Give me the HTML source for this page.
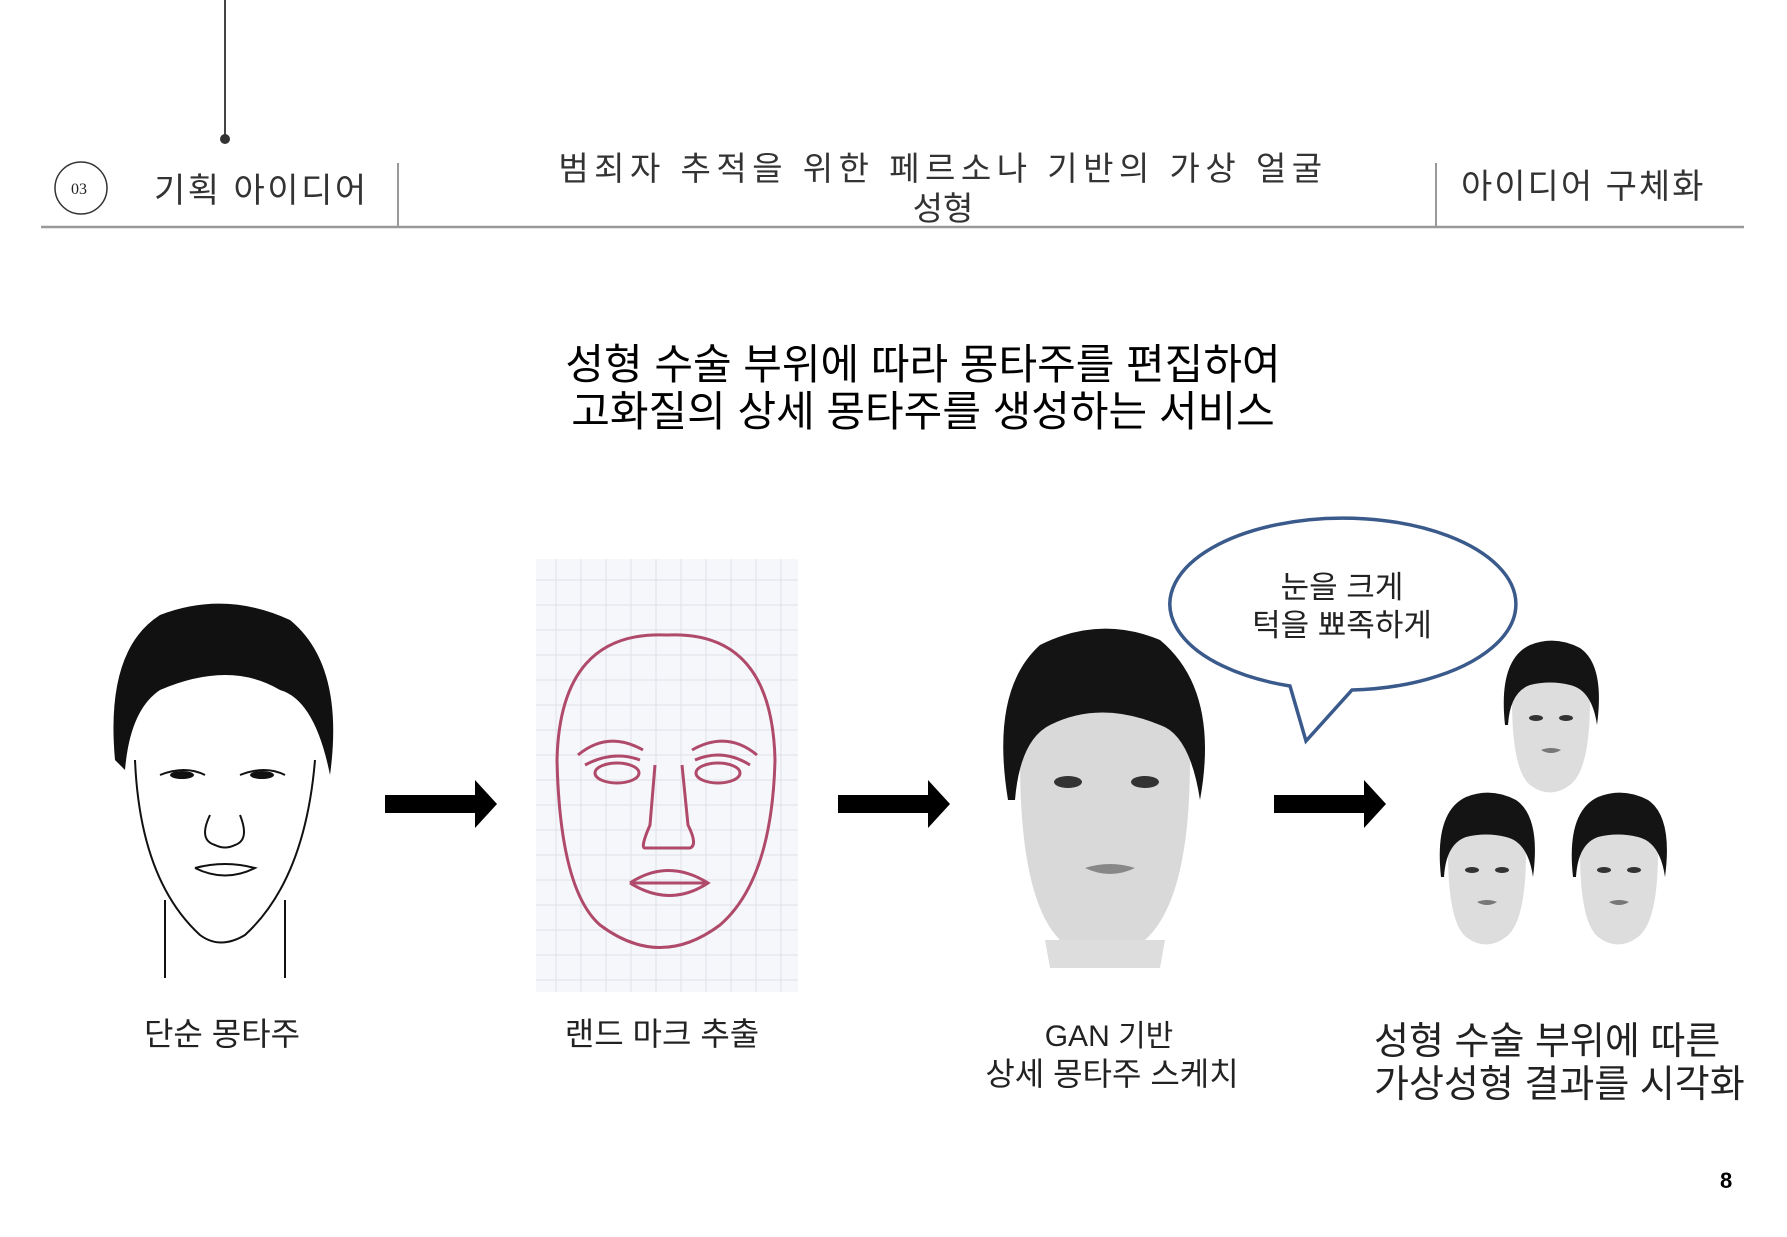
<!DOCTYPE html>
<html><head><meta charset="utf-8"><style>
body{margin:0;width:1787px;height:1237px;background:#fff;position:relative;overflow:hidden;font-family:"Liberation Sans","Noto Sans CJK KR",sans-serif;color:#222}
.t{position:absolute;white-space:nowrap;line-height:1}
</style></head><body>
<svg width="1787" height="1237" style="position:absolute;left:0;top:0">
<line x1="225" y1="0" x2="225" y2="139" stroke="#444" stroke-width="2"/>
<circle cx="225" cy="139" r="5" fill="#333"/>
<line x1="41" y1="227" x2="1744" y2="227" stroke="#999" stroke-width="2.5"/>
<line x1="398" y1="163" x2="398" y2="228" stroke="#999" stroke-width="2"/>
<line x1="1436" y1="163" x2="1436" y2="228" stroke="#999" stroke-width="2"/>
<circle cx="81" cy="188" r="26" fill="none" stroke="#333" stroke-width="1.5"/>
<g fill="#000">
<polygon points="385,795 475,795 475,780 497,804 475,828 475,813 385,813"/>
<polygon points="838,795 928,795 928,780 950,804 928,828 928,813 838,813"/>
<polygon points="1274,795 1364,795 1364,780 1386,804 1364,828 1364,813 1274,813"/>
</g>
<path d="M1290,686 A173,86 0 1 1 1352,690 L1306,741 Z" fill="#fff" stroke="#3a5a8c" stroke-width="3.5"/>
<g fill="none" stroke="#111" stroke-width="2">
<path d="M135,760 Q140,880 200,935 Q220,950 245,935 Q305,880 315,760"/>
<path d="M165,900 L165,978 M285,900 L285,978"/>
<path d="M160,775 q25,-10 45,0 M240,775 q25,-10 45,0"/>
<path d="M210,815 q-12,25 5,30 q10,5 20,0 q15,-5 5,-30"/>
<path d="M195,868 q30,-8 60,0 q-30,15 -60,0"/>
</g>
<path d="M115,760 Q105,650 160,615 Q225,590 290,620 Q345,665 330,775 Q315,700 280,690 Q230,660 160,690 Q130,710 125,770 Z" fill="#111"/>
<ellipse cx="182" cy="775" rx="12" ry="4" fill="#111"/><ellipse cx="262" cy="775" rx="12" ry="4" fill="#111"/>
<rect x="536" y="559" width="262" height="433" fill="#f6f7fb"/>
<g stroke="#dde0ea" stroke-width="1">
<path d="M536,580H798M536,605H798M536,630H798M536,655H798M536,680H798M536,705H798M536,730H798M536,755H798M536,780H798M536,805H798M536,830H798M536,855H798M536,880H798M536,905H798M536,930H798M536,955H798M536,980H798"/>
<path d="M556,559V992M581,559V992M606,559V992M631,559V992M656,559V992M681,559V992M706,559V992M731,559V992M756,559V992M781,559V992"/>
</g>
<g fill="none" stroke="#b04a6a" stroke-width="3">
<path d="M667,635 Q560,630 557,760 Q560,890 600,925 Q660,970 720,925 Q772,880 775,760 Q772,630 667,635Z"/>
<path d="M578,755 q30,-25 65,-5 M585,765 q28,-15 55,-5 M692,750 q35,-20 65,5 M695,760 q28,-12 55,5"/>
<ellipse cx="617" cy="773" rx="22" ry="10"/><ellipse cx="718" cy="773" rx="22" ry="10"/>
<path d="M655,765 L650,825 Q640,848 645,848 L690,848 Q698,845 688,825 L682,765"/>
<path d="M630,883 q38,-25 78,0 q-38,25 -78,0 M633,883 H706"/>
</g>
<path d="M1020,760 Q1020,900 1060,940 Q1102,975 1145,940 Q1190,900 1190,760 Q1170,700 1105,700 Q1040,700 1020,760Z" fill="#d9d9d9"/>
<path d="M1045,940 L1050,968 L1160,968 L1165,940" fill="#ddd"/>
<path d="M1008,800 Q990,690 1040,645 Q1100,615 1160,640 Q1220,690 1200,800 Q1190,735 1160,725 Q1100,700 1050,725 Q1020,740 1015,800Z" fill="#141414"/>
<ellipse cx="1068" cy="782" rx="14" ry="6" fill="#333"/><ellipse cx="1145" cy="782" rx="14" ry="6" fill="#333"/>
<path d="M1085,868 q25,-8 50,0 q-25,12 -50,0" fill="#888"/>
<g id="sf">
<path d="M1512,700 Q1512,770 1530,785 Q1550,800 1570,785 Q1590,770 1590,700 Q1580,670 1551,670 Q1522,670 1512,700Z" fill="#ddd"/>
<path d="M1505,725 Q1498,660 1530,645 Q1555,635 1580,648 Q1605,665 1597,725 Q1592,690 1570,685 Q1550,680 1530,685 Q1510,692 1508,725Z" fill="#141414"/>
<ellipse cx="1536" cy="718" rx="7" ry="3" fill="#333"/><ellipse cx="1566" cy="718" rx="7" ry="3" fill="#333"/>
<path d="M1541,750 q10,-4 20,0 q-10,6 -20,0" fill="#777"/>
</g>
<use href="#sf" x="-64" y="152"/>
<use href="#sf" x="68" y="152"/>
</svg>
<div class="t" style="left:71px;top:182px;font-family:'Liberation Serif',serif;font-size:16px">03</div>
<div class="t" style="left:154px;top:174px;font-size:34px;letter-spacing:2.5px;color:#333">기획 아이디어</div>
<div class="t" style="left:400px;width:1086px;text-align:center;top:152px;font-size:33px;letter-spacing:5.5px;color:#333">범죄자 추적을 위한 페르소나 기반의 가상 얼굴</div>
<div class="t" style="left:400px;width:1086px;text-align:center;top:192px;font-size:33px;color:#333">성형</div>
<div class="t" style="left:1461px;top:170px;font-size:34px;letter-spacing:2px;color:#333">아이디어 구체화</div>
<div class="t" style="left:400px;width:1046px;text-align:center;top:344px;font-size:42px;color:#000">성형 수술 부위에 따라 몽타주를 편집하여</div>
<div class="t" style="left:400px;width:1046px;text-align:center;top:391px;font-size:42px;color:#000">고화질의 상세 몽타주를 생성하는 서비스</div>
<div class="t" style="left:1192px;width:300px;text-align:center;top:572px;font-size:31px;color:#222">눈을 크게</div>
<div class="t" style="left:1192px;width:300px;text-align:center;top:610px;font-size:31px;color:#222">턱을 뾰족하게</div>
<div class="t" style="left:72px;width:300px;text-align:center;top:1018px;font-size:32px">단순 몽타주</div>
<div class="t" style="left:512px;width:300px;text-align:center;top:1018px;font-size:32px">랜드 마크 추출</div>
<div class="t" style="left:959px;width:300px;text-align:center;top:1022px;font-size:30px">GAN 기반</div>
<div class="t" style="left:962px;width:300px;text-align:center;top:1058px;font-size:32px">상세 몽타주 스케치</div>
<div class="t" style="left:1374px;top:1023px;font-size:38px">성형 수술 부위에 따른</div>
<div class="t" style="left:1374px;top:1066px;font-size:38px">가상성형 결과를 시각화</div>
<div class="t" style="left:1720px;top:1170px;font-size:22px;font-weight:bold;color:#000">8</div>
</body></html>
